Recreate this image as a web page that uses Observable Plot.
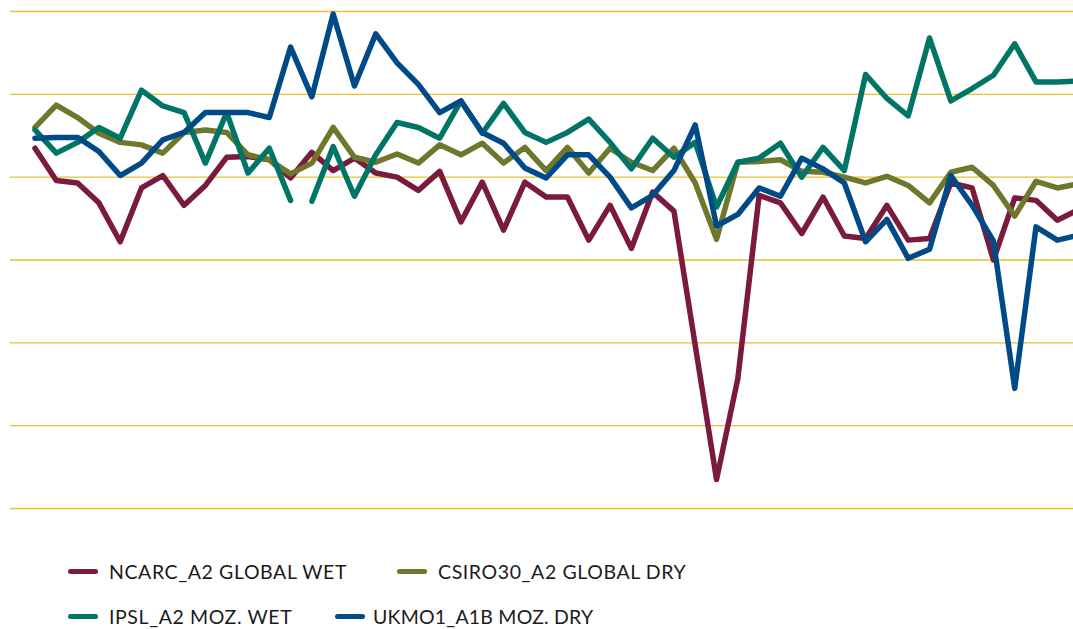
<!DOCTYPE html>
<html>
<head>
<meta charset="utf-8">
<script src="https://cdn.jsdelivr.net/npm/d3@7"></script>
<script src="https://cdn.jsdelivr.net/npm/@observablehq/plot@0.6"></script>
<style>
  html, body { margin: 0; padding: 0; background: #ffffff; }
  #wrap { position: relative; width: 1073px; height: 629px; overflow: hidden; }
  #chart svg { display: block; }
  #legend { position: absolute; left: 0; top: 540px; width: 1073px; height: 89px; }
  .item { position: absolute; display: flex; align-items: center; height: 24px;
          font-family: Lato, "Noto Sans", sans-serif; font-size: 19.5px; letter-spacing: 0.6px;
          color: #1b1b1b; white-space: nowrap; }
  .sw { display: inline-block; width: 30px; height: 5px; border-radius: 3px; margin-right: 11px; }
</style>
</head>
<body>
<div id="wrap">
  <div id="chart"></div>
  <div id="legend"></div>
</div>
<script>
// ---- data ----
const steps = d3.range(1, 51); // 50 consecutive time steps, no axis labels shown

const seriesNames = ["NCARC_A2 GLOBAL WET", "CSIRO30_A2 GLOBAL DRY", "IPSL_A2 MOZ. WET", "UKMO1_A1B MOZ. DRY"];
const seriesColors = ["#7A1A3C", "#6E772B", "#007566", "#004B87"];

const ncarcGlobalWet = [
  3.5, -0.4, -0.7, -3.1, -7.8, -1.3, 0.2, -3.4, -1.0, 2.4,
  2.5, 2.1, -0.1, 3.0, 0.8, 2.3, 0.5, 0.0, -1.6, 0.7,
  -5.4, -0.6, -6.4, -0.6, -2.4, -2.4, -7.6, -3.4, -8.6, -1.8,
  -4.1, -20.3, -36.5, -24.3, -2.2, -3.1, -6.8, -2.4, -7.1, -7.4,
  -3.4, -7.6, -7.4, -0.7, -1.3, -10.0, -2.5, -2.8, -5.2, -3.9
];
const csiro30GlobalDry = [
  6.0, 8.7, 7.2, 5.3, 4.2, 3.9, 2.9, 5.4, 5.7, 5.4,
  2.7, 2.1, 0.4, 1.7, 6.0, 2.4, 1.8, 2.8, 1.7, 3.9,
  2.7, 4.1, 1.7, 3.6, 0.8, 3.6, 0.5, 3.5, 1.8, 0.8,
  3.5, -0.7, -7.5, 1.8, 1.9, 2.1, 0.7, 0.6, 0.0, -0.7,
  0.1, -1.0, -3.1, 0.6, 1.2, -1.0, -4.7, -0.5, -1.3, -0.8
];
const ipslMozWet = [
  5.7, 2.9, 4.2, 6.0, 4.7, 10.5, 8.6, 7.8, 1.7, 7.8,
  0.5, 3.5, -2.8, -2.9, 3.7, -2.3, 2.7, 6.6, 6.0, 4.7,
  9.2, 5.3, 8.9, 5.4, 4.2, 5.4, 7.0, 4.2, 1.0, 4.7,
  2.4, 4.2, -3.6, 1.8, 2.3, 4.1, 0.0, 3.6, 0.8, 12.4,
  9.5, 7.4, 16.8, 9.2, 10.7, 12.3, 16.1, 11.5, 11.5, 11.6
];
const ipslBreakBeforeStep = 14; // the IPSL line is interrupted between steps 13 and 14
const ukmo1MozDry = [
  4.7, 4.8, 4.8, 3.1, 0.2, 1.7, 4.5, 5.4, 7.8, 7.8,
  7.8, 7.2, 15.7, 9.7, 19.7, 11.0, 17.3, 13.8, 11.2, 7.8,
  9.2, 5.4, 4.1, 1.1, -0.1, 2.7, 2.7, 0.0, -3.7, -2.2,
  0.8, 6.3, -5.9, -4.5, -1.3, -2.3, 2.3, 1.0, -0.7, -7.8,
  -5.1, -9.8, -8.7, 0.2, -3.4, -7.7, -25.5, -6.0, -7.6, -7.0
];
const gridValues = [20, 10, 0, -10, -20, -30, -40];

// ---- build table for Plot ----
const seriesValues = [ncarcGlobalWet, csiro30GlobalDry, ipslMozWet, ukmo1MozDry];
const rows = [];
seriesValues.forEach((vals, si) => {
  vals.forEach((v, i) => {
    const step = steps[i];
    const seg = (si === 2 && step >= ipslBreakBeforeStep) ? "b" : "a";
    rows.push({step, value: v, series: seriesNames[si], key: seriesNames[si] + "-" + seg});
  });
});

const chart = Plot.plot({
  width: 1073,
  height: 540,
  marginTop: 11,
  marginBottom: 32,
  marginLeft: 10,
  marginRight: 0,
  x: {type: "linear", domain: [-0.15, 49.76], axis: null},
  y: {domain: [-40, 20], axis: null},
  color: {domain: seriesNames, range: seriesColors},
  marks: [
    Plot.ruleY(gridValues, {stroke: "#E9C12C", strokeWidth: 1.4}),
    Plot.line(rows, {
      x: "step", y: "value", z: "key", stroke: "series",
      strokeWidth: 5.5, strokeLinejoin: "round", strokeLinecap: "round", clip: true
    })
  ]
});
document.getElementById("chart").appendChild(chart);

// ---- legend below the SVG ----
const legendPos = [
  {left: 68, top: 19}, {left: 397, top: 19},
  {left: 68, top: 64}, {left: 335, top: 64}
];
const legendOrder = [0, 1, 2, 3];
const legend = document.getElementById("legend");
legendOrder.forEach((si, j) => {
  const it = document.createElement("div");
  it.className = "item";
  it.style.left = legendPos[j].left + "px";
  it.style.top = legendPos[j].top + "px";
  const sw = document.createElement("span");
  sw.className = "sw";
  sw.style.background = seriesColors[si];
  if (j === 3) { sw.style.marginRight = "8px"; it.style.letterSpacing = "0.2px"; }
  it.appendChild(sw);
  const tx = document.createElement("span");
  tx.textContent = seriesNames[si];
  it.appendChild(tx);
  legend.appendChild(it);
});
</script>
</body>
</html>
